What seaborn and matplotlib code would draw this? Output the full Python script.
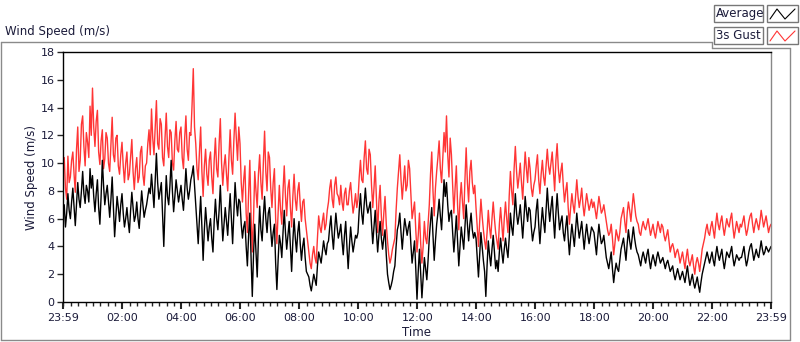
import numpy as np
import pandas as pd
import seaborn as sns
import matplotlib.pyplot as plt
from matplotlib.patches import Rectangle
from matplotlib.lines import Line2D

# --- DATA (2.5 min steps from 23:59, one row per hour) ---
gust = [
    9.6, 10.4, 8.2, 7.4, 10.5, 8.6, 9.0, 10.2, 10.8, 9.2, 7.9, 11.0, 12.6, 9.4, 10.2, 12.8, 13.4, 11.2, 9.8, 12.2, 11.5, 10.4, 14.1, 12.0,
    15.4, 12.6, 11.2, 13.0, 13.8, 10.8, 9.9, 11.6, 12.4, 9.6, 10.3, 12.2, 11.8, 10.0, 9.4, 11.4, 13.3, 10.6, 10.1, 11.8, 12.0, 9.8, 9.2, 10.6,
    11.5, 9.8, 8.6, 10.0, 10.8, 8.8, 9.2, 10.4, 11.7, 9.4, 8.1, 9.6, 10.4, 8.6, 9.0, 10.8, 11.2, 9.2, 8.4, 9.8, 10.0, 11.4, 12.4, 10.6,
    13.9, 11.8, 10.6, 12.6, 14.5, 11.4, 11.0, 13.2, 12.8, 10.4, 9.8, 11.8, 13.6, 11.2, 10.4, 12.4, 12.2, 10.0, 9.5, 11.6, 13.0, 11.0, 10.8, 12.2,
    12.6, 10.4, 9.6, 11.8, 13.4, 11.0, 10.2, 12.2, 12.0, 14.2, 16.8, 12.6, 11.4, 9.6, 8.8, 10.8, 12.6, 9.4, 7.6, 9.8, 11.0, 9.2, 8.4, 10.2,
    10.8, 9.0, 7.8, 10.2, 11.8, 9.6, 9.0, 11.4, 13.2, 10.0, 8.4, 9.8, 10.6, 9.2, 8.0, 10.4, 12.4, 10.2, 9.2, 11.6, 13.6, 11.8, 10.2, 12.6,
    11.4, 8.6, 7.2, 8.8, 9.8, 6.4, 5.0, 7.8, 10.2, 6.2, 3.6, 6.0, 9.4, 8.0, 6.8, 9.2, 10.6, 8.6, 7.4, 10.0, 12.3, 9.4, 8.0, 10.8,
    10.4, 8.2, 6.8, 8.6, 9.6, 6.0, 4.2, 6.4, 8.4, 6.6, 5.6, 8.0, 9.8, 7.6, 6.2, 8.2, 8.8, 6.8, 5.4, 7.6, 9.2, 7.4, 6.6, 8.0,
    8.6, 7.0, 5.8, 7.2, 7.4, 6.0, 5.2, 4.4, 3.6, 2.8, 2.4, 3.4, 4.0, 3.2, 2.8, 4.6, 6.2, 5.4, 5.0, 5.8, 6.4, 5.2, 5.6, 6.6,
    7.2, 8.2, 8.8, 7.4, 6.8, 8.4, 9.0, 7.8, 7.6, 7.0, 8.4, 7.2, 6.6, 7.8, 8.2, 7.0, 7.0, 8.0, 8.6, 7.4, 6.4, 7.0, 7.8, 6.8,
    7.4, 9.0, 10.2, 8.8, 8.6, 10.4, 11.6, 9.6, 9.2, 11.0, 10.6, 8.4, 6.8, 8.2, 9.8, 7.4, 5.0, 7.2, 8.4, 6.2, 4.8, 6.4, 7.6, 5.6,
    4.4, 3.4, 2.8, 3.2, 3.8, 4.2, 4.6, 6.6, 8.2, 9.4, 10.6, 8.8, 7.4, 8.6, 9.8, 8.0, 8.4, 10.2, 9.6, 7.8, 6.0, 6.6, 7.2, 5.2,
    3.6, 4.8, 6.4, 4.2, 2.8, 4.0, 5.8, 4.6, 4.2, 5.6, 7.0, 9.2, 10.8, 8.0, 6.2, 8.2, 9.4, 10.4, 11.6, 9.6, 8.6, 10.4, 12.2, 10.8,
    13.4, 10.6, 9.0, 11.8, 10.6, 8.4, 6.4, 8.2, 9.8, 7.0, 5.2, 7.4, 8.6, 7.2, 6.0, 8.8, 11.1, 8.6, 7.2, 9.4, 10.2, 8.6, 7.8, 8.4,
    6.8, 5.4, 4.0, 5.8, 7.4, 6.2, 5.2, 4.4, 3.8, 5.0, 6.6, 5.4, 4.6, 6.0, 7.2, 6.0, 5.0, 4.4, 3.8, 5.6, 6.8, 5.6, 4.4, 6.0,
    7.2, 6.0, 5.0, 7.6, 9.4, 8.0, 7.0, 9.6, 11.2, 9.4, 8.2, 9.0, 10.0, 8.6, 7.4, 9.2, 10.8, 9.6, 8.6, 10.4, 9.6, 8.2, 7.6, 8.4,
    8.8, 9.8, 10.6, 8.8, 7.8, 9.2, 10.2, 9.0, 8.4, 9.8, 11.0, 9.8, 9.2, 10.0, 10.8, 9.4, 8.0, 10.2, 11.4, 9.6, 8.6, 9.4, 10.0, 8.4,
    7.2, 8.0, 8.6, 6.8, 5.6, 6.8, 7.8, 7.0, 6.4, 7.6, 8.8, 7.6, 6.8, 7.4, 8.2, 7.0, 6.2, 7.0, 7.8, 7.2, 6.6, 7.0, 7.4, 6.8,
    7.2, 6.6, 6.0, 6.8, 7.6, 7.0, 6.4, 6.6, 7.0, 6.4, 5.8, 5.2, 4.8, 5.0, 5.6, 4.6, 3.4, 4.2, 5.2, 4.8, 4.4, 5.0, 6.0, 6.4,
    6.8, 5.8, 5.0, 6.4, 7.2, 6.6, 5.8, 6.8, 7.8, 7.0, 6.2, 5.8, 5.6, 5.0, 4.8, 5.4, 5.8, 5.4, 5.2, 5.6, 6.0, 5.4, 4.8, 5.2,
    5.6, 5.0, 4.6, 5.2, 5.8, 5.4, 5.0, 5.6, 5.4, 4.8, 4.4, 4.8, 5.2, 4.4, 3.6, 4.0, 4.2, 3.8, 3.2, 3.6, 3.8, 3.4, 2.8, 3.2,
    3.6, 3.0, 2.4, 3.2, 3.8, 3.0, 2.6, 3.0, 3.4, 2.6, 2.0, 2.8, 3.2, 2.8, 2.2, 3.0, 3.8, 4.2, 4.6, 5.2, 5.6, 5.0, 4.8, 5.4,
    5.8, 5.2, 4.6, 5.6, 6.4, 5.6, 5.2, 5.8, 6.2, 5.4, 4.8, 5.4, 6.0, 5.6, 5.4, 6.0, 6.4, 5.4, 4.6, 5.2, 5.8, 5.4, 5.0, 5.6,
    5.4, 5.8, 6.2, 5.4, 4.8, 5.2, 5.8, 6.2, 6.4, 5.6, 5.0, 5.6, 6.0, 5.6, 5.2, 5.8, 6.6, 6.0, 5.4, 5.8, 6.2, 5.6, 5.0, 5.4,
    5.6,
]
average = [
    6.2, 7.0, 5.4, 6.4, 7.8, 6.6, 6.0, 7.2, 8.2, 6.8, 5.5, 7.0, 8.6, 7.4, 6.8, 8.0, 9.4, 7.8, 7.1, 8.4, 8.0, 7.2, 9.6, 8.2,
    9.1, 7.6, 6.5, 7.8, 8.8, 6.8, 5.6, 7.6, 10.2, 8.4, 7.0, 7.8, 8.4, 7.2, 6.1, 7.4, 9.0, 6.8, 4.7, 6.2, 7.6, 6.8, 5.8, 7.0,
    7.8, 6.4, 5.4, 6.0, 6.8, 5.8, 5.0, 6.6, 7.9, 6.8, 5.8, 6.2, 7.2, 6.0, 5.3, 6.6, 8.0, 7.0, 6.1, 6.6, 7.0, 7.6, 8.2, 7.8,
    9.2, 8.0, 6.8, 8.8, 10.7, 8.6, 7.4, 8.0, 8.6, 6.2, 4.0, 6.8, 9.1, 7.6, 7.0, 8.4, 10.2, 8.0, 6.5, 7.6, 8.8, 8.0, 7.2, 7.8,
    8.4, 7.4, 6.6, 8.0, 9.6, 8.2, 7.4, 8.0, 8.8, 9.2, 9.8, 8.4, 7.0, 5.6, 4.2, 6.0, 7.6, 5.4, 3.0, 5.2, 6.8, 5.6, 4.4, 5.4,
    6.0, 4.6, 3.6, 5.8, 7.4, 6.0, 5.2, 6.6, 8.4, 6.2, 4.4, 5.6, 6.8, 5.8, 4.8, 6.4, 7.8, 6.0, 4.2, 6.4, 8.6, 7.2, 6.2, 7.4,
    7.2, 5.6, 4.6, 5.4, 5.8, 4.0, 2.6, 4.8, 6.4, 3.2, 0.4, 3.4, 5.6, 3.6, 1.8, 4.6, 6.9, 5.2, 4.4, 6.2, 7.6, 6.0, 5.0, 6.4,
    6.8, 5.2, 4.0, 5.0, 5.6, 2.8, 0.9, 3.0, 4.8, 4.2, 3.2, 5.0, 6.6, 5.0, 3.8, 4.8, 5.8, 4.0, 2.2, 4.4, 6.0, 4.6, 3.6, 5.0,
    5.8, 4.2, 3.0, 4.0, 4.6, 3.2, 2.2, 2.0, 1.8, 1.2, 0.8, 1.4, 2.0, 1.6, 1.2, 2.6, 3.6, 3.2, 2.8, 3.6, 4.4, 3.8, 3.4, 4.2,
    4.4, 5.4, 6.2, 4.8, 3.8, 5.2, 6.4, 5.4, 4.6, 5.0, 5.6, 4.4, 3.4, 4.8, 5.8, 4.0, 2.4, 4.0, 5.4, 4.4, 3.6, 4.2, 4.8, 4.6,
    5.0, 6.6, 7.8, 6.4, 5.6, 7.0, 8.2, 7.0, 6.4, 6.8, 7.2, 5.6, 4.2, 5.4, 6.6, 5.0, 3.6, 4.8, 5.8, 4.6, 3.8, 4.6, 5.2, 3.4,
    2.0, 1.4, 0.9, 1.2, 1.6, 2.2, 2.6, 4.0, 5.2, 5.6, 6.4, 5.0, 3.8, 5.0, 6.0, 5.4, 4.8, 5.4, 5.8, 4.2, 2.8, 3.6, 4.4, 2.4,
    0.2, 2.2, 3.8, 2.0, 0.3, 1.8, 3.2, 2.4, 1.6, 3.0, 4.6, 5.8, 6.8, 4.8, 3.0, 4.4, 5.6, 6.4, 7.4, 6.2, 5.2, 7.0, 8.8, 7.6,
    8.6, 7.0, 5.8, 6.4, 6.6, 5.0, 3.6, 4.8, 6.2, 4.4, 2.6, 4.0, 5.4, 4.6, 3.8, 5.4, 7.0, 5.6, 4.4, 5.6, 6.4, 5.2, 4.6, 5.0,
    4.6, 3.2, 1.8, 3.4, 5.0, 4.0, 3.0, 2.2, 0.4, 2.6, 4.4, 3.4, 2.6, 3.8, 4.8, 3.6, 2.4, 3.0, 2.2, 3.6, 4.6, 3.6, 2.8, 3.8,
    4.6, 3.8, 3.2, 4.6, 6.4, 5.4, 4.8, 6.2, 7.8, 6.4, 5.6, 6.2, 7.0, 5.8, 4.6, 6.0, 7.6, 6.6, 5.8, 6.8, 6.6, 5.4, 4.4, 5.0,
    5.4, 6.6, 7.4, 5.6, 4.2, 5.6, 6.8, 5.8, 5.0, 6.6, 8.2, 6.8, 5.8, 6.8, 7.6, 6.0, 4.6, 6.4, 7.8, 6.4, 5.2, 5.8, 6.2, 5.0,
    4.4, 5.4, 6.2, 4.6, 3.4, 4.6, 5.6, 4.8, 4.0, 5.2, 6.4, 5.4, 4.6, 5.2, 5.8, 4.8, 3.8, 4.8, 5.6, 4.8, 4.2, 4.8, 5.4, 5.2,
    5.0, 4.2, 3.4, 4.6, 5.6, 4.8, 4.2, 4.4, 4.8, 4.0, 3.2, 2.8, 2.4, 3.0, 3.6, 2.4, 1.4, 2.2, 2.8, 2.4, 2.2, 3.0, 3.8, 4.2,
    4.6, 3.8, 3.0, 4.2, 5.2, 4.4, 3.8, 4.6, 5.4, 4.6, 4.0, 3.6, 3.4, 3.0, 2.6, 3.2, 3.6, 3.2, 2.8, 3.4, 3.8, 3.0, 2.4, 3.0,
    3.4, 3.0, 2.6, 3.2, 3.6, 3.2, 2.8, 3.0, 3.2, 2.8, 2.4, 2.8, 3.0, 2.6, 2.2, 2.4, 2.6, 2.0, 1.6, 2.0, 2.4, 2.0, 1.6, 1.9,
    2.2, 1.8, 1.4, 2.0, 2.6, 1.8, 1.2, 1.6, 2.0, 1.4, 1.0, 1.4, 1.8, 1.2, 0.7, 1.4, 2.0, 2.4, 2.8, 3.2, 3.6, 3.2, 2.8, 3.2,
    3.6, 3.0, 2.6, 3.4, 4.0, 3.4, 3.0, 3.4, 3.8, 3.0, 2.4, 3.0, 3.6, 3.4, 3.2, 3.6, 4.0, 3.2, 2.6, 3.0, 3.4, 3.2, 3.0, 3.2,
    3.2, 3.6, 4.0, 3.2, 2.6, 3.0, 3.6, 4.0, 4.2, 3.6, 3.0, 3.4, 3.8, 3.4, 3.2, 3.8, 4.4, 3.8, 3.4, 3.6, 4.0, 3.8, 3.6, 3.8,
    4.0,
]
tick_labels = ["23:59", "02:00", "04:00", "06:00", "08:00", "10:00", "12:00",
               "14:00", "16:00", "18:00", "20:00", "22:00", "23:59"]

minutes = np.arange(len(gust)) * 2.5
df = pd.DataFrame({"minute": minutes, "gust": gust, "average": average})

sns.set_style("white")
plt.rcParams["font.family"] = ["DejaVu Sans"]
txt = "#1b1b3a"

fig = plt.figure(figsize=(8, 3.42), dpi=100)
ax = fig.add_axes([63 / 800, 40 / 342, 708 / 800, 250 / 342])

sns.lineplot(data=df, x="minute", y="gust", color="#ff3535", lw=1.0, ax=ax)
sns.lineplot(data=df, x="minute", y="average", color="black", lw=1.0, ax=ax)

ax.set_xlim(0, 1440)
ax.set_ylim(0, 18)
ax.set_yticks(range(0, 19, 2))
ax.set_yticklabels([str(v) for v in range(0, 19, 2)], fontsize=8, color=txt)
major = [0] + [121 + 120 * i for i in range(11)] + [1440]
ax.set_xticks(major)
ax.set_xticklabels(tick_labels, fontsize=8, color=txt)
ax.set_xticks(np.arange(1, 1440, 15), minor=True)
ax.tick_params(axis="y", which="major", length=4, width=1, direction="out", left=True, pad=2)
ax.tick_params(axis="x", which="major", length=5, width=1.5, direction="out", bottom=True, pad=3)
ax.tick_params(axis="x", which="minor", length=3, width=1, direction="out", bottom=True)
ax.set_xlabel("Time", fontsize=8.5, color=txt, labelpad=2)
ax.set_ylabel("Wind Speed (m/s)", fontsize=8.5, color=txt, labelpad=2)

for side in ["left", "bottom", "top"]:
    ax.spines[side].set_color("black")
    ax.spines[side].set_linewidth(1)
ax.spines["right"].set_color("#888888")
ax.spines["right"].set_linewidth(1)

# outer panel frame
gray = "#8a8a8a"
fig.add_artist(Line2D([0.5 / 800, 712 / 800], [1 - 42 / 342] * 2, color=gray, lw=1))
fig.add_artist(Line2D([712 / 800, 712 / 800], [1 - 42 / 342, 1 - 48 / 342], color=gray, lw=1))
fig.add_artist(Line2D([712 / 800, 790 / 800], [1 - 48 / 342] * 2, color=gray, lw=1))
fig.add_artist(Line2D([0.5 / 800, 0.5 / 800], [1 - 42 / 342, 1 - 340 / 342], color=gray, lw=1))
fig.add_artist(Line2D([0.5 / 800, 790 / 800], [1 - 340 / 342] * 2, color=gray, lw=1))
fig.add_artist(Line2D([790 / 800, 790 / 800], [1 - 48 / 342, 1 - 340 / 342], color=gray, lw=1))

fig.text(5 / 800, 1 - 32 / 342, "Wind Speed (m/s)", fontsize=8.5, color=txt, va="center")

# legend boxes
for i, (name, col) in enumerate([("Average", "black"), ("3s Gust", "#ff3535")]):
    y0 = 5 + 22 * i
    fig.add_artist(Rectangle((714 / 800, 1 - (y0 + 17) / 342), 49 / 800, 17 / 342,
                             transform=fig.transFigure, fill=False, ec="#777777", lw=1))
    fig.text(716 / 800, 1 - (y0 + 8.5) / 342, name, fontsize=8.5, color=txt, va="center")
    fig.add_artist(Rectangle((767 / 800, 1 - (y0 + 17) / 342), 31 / 800, 17 / 342,
                             transform=fig.transFigure, fill=False, ec="#777777", lw=1))
    xs = np.array([770, 777, 785, 795]) / 800
    ys = 1 - (y0 + np.array([14, 4, 14, 4])) / 342
    fig.add_artist(Line2D(xs, ys, color=col, lw=0.8))

fig.savefig("out.png", dpi=100)
